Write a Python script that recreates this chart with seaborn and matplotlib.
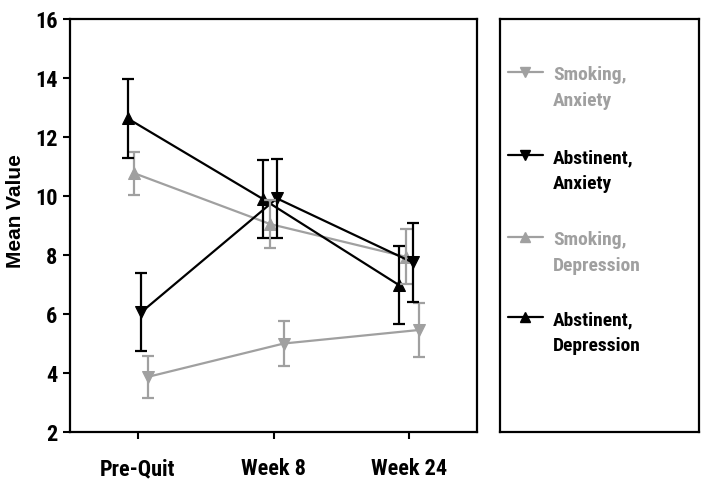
import pandas as pd
import matplotlib.pyplot as plt
import seaborn as sns

# Dados
tempos = ["Pre-Quit", "Week 8", "Week 24"]
grupos = ["Smoking, Anxiety", "Abstinent, Anxiety", "Smoking, Depression", "Abstinent, Depression"]

smoking_anxiety = [3.87, 5.00, 5.46]
smoking_anxiety_err = [0.71, 0.77, 0.93]
abstinent_anxiety = [6.06, 9.92, 7.75]
abstinent_anxiety_err = [1.33, 1.33, 1.35]
smoking_depression = [10.77, 9.05, 7.94]
smoking_depression_err = [0.72, 0.80, 0.93]
abstinent_depression = [12.63, 9.89, 6.98]
abstinent_depression_err = [1.34, 1.33, 1.33]

cinza = "#a0a0a0"
cores = {grupos[0]: cinza, grupos[1]: "black", grupos[2]: cinza, grupos[3]: "black"}
marcadores = {grupos[0]: "v", grupos[1]: "v", grupos[2]: "^", grupos[3]: "^"}
deslocamento = {grupos[0]: 0.075, grupos[1]: 0.025, grupos[2]: -0.025, grupos[3]: -0.075}

medias = [smoking_anxiety, abstinent_anxiety, smoking_depression, abstinent_depression]
erros = [smoking_anxiety_err, abstinent_anxiety_err, smoking_depression_err, abstinent_depression_err]

linhas = []
for g, m, e in zip(grupos, medias, erros):
    for i, t in enumerate(tempos):
        linhas.append({"grupo": g, "tempo": t, "x": i + deslocamento[g], "media": m[i], "erro": e[i]})
df = pd.DataFrame(linhas)

sns.set_style("white")
plt.rcParams["text.color"] = "black"
plt.rcParams["xtick.color"] = "black"
plt.rcParams["ytick.color"] = "black"
plt.rcParams["axes.labelcolor"] = "black"
narrow = ["Roboto Condensed", "Archivo Narrow", "Liberation Sans", "DejaVu Sans"]

fig = plt.figure(figsize=(7.04, 4.84), dpi=100)
ax = fig.add_axes([0.0994, 0.1074, 0.5782, 0.8533])
ax_leg = fig.add_axes([0.710, 0.1074, 0.283, 0.8533])

ordem = [grupos[0], grupos[2], grupos[1], grupos[3]]
sns.lineplot(data=df, x="x", y="media", hue="grupo", style="grupo", hue_order=ordem,
             style_order=ordem, palette=cores, markers=marcadores, dashes=False,
             linewidth=1.6, markersize=9, legend=False, ax=ax)
for ln in ax.lines:
    ln.set_markeredgecolor(ln.get_color())

for g in ordem:
    sub = df[df["grupo"] == g]
    ax.errorbar(sub["x"], sub["media"], yerr=sub["erro"], fmt="none", ecolor=cores[g],
                elinewidth=1.6, capsize=4, capthick=1.6)

ax.set_xlim(-0.5, 2.5)
ax.set_ylim(2, 16)
ax.set_xticks(range(len(tempos)))
ax.set_xticklabels(tempos, family=narrow, fontsize=16, fontweight="bold")
ax.set_yticks(range(2, 17, 2))
ax.set_yticklabels([str(v) for v in range(2, 17, 2)], family=narrow, fontsize=16, fontweight="bold")
ax.tick_params(axis="both", direction="out", length=5, width=1.5, color="black",
               bottom=True, left=True, pad=4)
ax.tick_params(axis="x", pad=14)
ax.set_xlabel("")
ax.set_ylabel("Mean Value", family=["Liberation Sans", "DejaVu Sans"], fontsize=15, fontweight="bold")
ax.yaxis.set_label_coords(-0.11, 0.535)
for s in ax.spines.values():
    s.set_color("black")
    s.set_linewidth(1.6)

# Legenda desenhada numa caixa separada
ax_leg.set_xticks([])
ax_leg.set_yticks([])
ax_leg.set_xlim(0, 1)
ax_leg.set_ylim(0, 1)
for s in ax_leg.spines.values():
    s.set_color("black")
    s.set_linewidth(1.6)

y_handle = [0.872, 0.671, 0.472, 0.278]
for g, yh in zip(grupos, y_handle):
    ax_leg.plot([0.04, 0.216], [yh, yh], color=cores[g], linewidth=1.6)
    ax_leg.plot([0.128], [yh], marker=marcadores[g], color=cores[g], markersize=7)
    l1, l2 = g.split(" ")
    ax_leg.text(0.266, yh - 0.02, l1, color=cores[g], family=narrow, fontsize=14,
                fontweight="bold", va="baseline")
    ax_leg.text(0.266, yh - 0.083, l2, color=cores[g], family=narrow, fontsize=14,
                fontweight="bold", va="baseline")

plt.savefig("out.png", dpi=100)
